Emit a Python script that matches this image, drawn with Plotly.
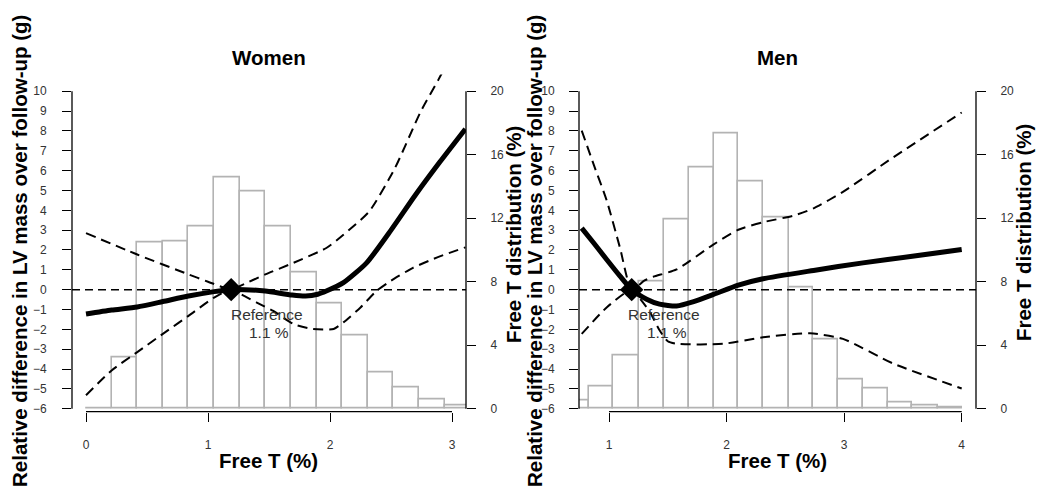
import plotly.graph_objects as go

# ---------------- data ----------------
# Women: histogram of free T (% of participants)
women_edges = [0.0, 0.21, 0.42, 0.63, 0.84, 1.05, 1.26, 1.47, 1.68, 1.89, 2.10, 2.31, 2.52, 2.73, 2.94, 3.15]
women_pct = [0.05, 3.25, 10.5, 10.55, 11.5, 14.56, 13.67, 11.48, 8.6, 6.65, 4.6, 2.31, 1.33, 0.58, 0.19]

# Women: estimated relative difference in LV mass and 95% CI
women_x = [0.0, 0.21, 0.42, 0.63, 0.84, 1.05, 1.19, 1.3, 1.47, 1.69, 1.8, 1.9, 1.97, 2.11, 2.3, 2.5, 2.7, 2.9, 3.11]
women_est = [-1.23, -1.03, -0.87, -0.6, -0.32, -0.1, 0.0, 0.0, -0.07, -0.27, -0.32, -0.23, -0.07, 0.35, 1.35, 3.0, 4.77, 6.43, 8.1]
women_hi_x = [0.0, 0.42, 0.84, 1.0, 1.19, 1.26, 1.47, 1.70, 1.97, 2.11, 2.32, 2.53, 2.74, 2.89, 2.95]
women_hi = [2.85, 1.77, 0.77, 0.4, 0.0, 0.18, 0.77, 1.35, 2.1, 2.77, 3.93, 6.1, 8.93, 10.6, 11.3]
women_lo_x = [0.0, 0.21, 0.42, 0.63, 0.84, 1.05, 1.19, 1.3, 1.4, 1.535, 1.7, 1.86, 2.03, 2.11, 2.25, 2.38, 2.5, 2.68, 2.9, 3.11]
women_lo = [-5.32, -4.07, -3.15, -2.23, -1.32, -0.4, 0.0, -0.33, -0.65, -1.07, -1.73, -1.98, -1.98, -1.65, -0.9, -0.07, 0.45, 1.1, 1.68, 2.13]

# Men: histogram of free T (% of participants)
men_edges = [0.62, 0.832, 1.037, 1.255, 1.47, 1.683, 1.893, 2.10, 2.312, 2.53, 2.737, 2.95, 3.162, 3.37, 3.58, 3.795, 4.0]
men_pct = [0.54, 1.375, 3.35, 8.04, 11.9, 15.2, 17.35, 14.33, 12.04, 7.67, 4.35, 1.85, 1.27, 0.4, 0.23, 0.06]

# Men: estimated relative difference in LV mass and 95% CI
men_x = [0.768, 0.87, 0.98, 1.094, 1.193, 1.32, 1.43, 1.575, 1.72, 1.893, 2.10, 2.31, 2.74, 3.16, 3.58, 4.0]
men_est = [3.1, 2.35, 1.52, 0.68, 0.0, -0.48, -0.73, -0.82, -0.6, -0.23, 0.23, 0.55, 0.97, 1.35, 1.68, 2.02]
men_hi_x = [0.768, 0.87, 0.98, 1.094, 1.193, 1.3, 1.377, 1.575, 1.887, 2.10, 2.31, 2.57, 2.74, 2.99, 3.42, 4.0]
men_hi = [8.02, 6.3, 4.5, 2.1, 0.0, 0.45, 0.65, 1.02, 2.27, 3.02, 3.4, 3.73, 4.1, 4.93, 6.68, 8.93]
men_lo_x = [0.768, 0.98, 1.193, 1.27, 1.35, 1.43, 1.5, 1.575, 1.97, 2.31, 2.71, 2.99, 3.42, 4.0]
men_lo = [-2.23, -0.9, 0.0, -0.5, -1.15, -2.05, -2.6, -2.73, -2.73, -2.4, -2.2, -2.48, -3.73, -4.98]

ref_x = [1.19, 1.193]
ref_label = ["Reference", "1.1 %"]

titles = ["Women", "Men"]
y_title = "Relative difference in LV mass over follow-up (g)"
y2_title = "Free T distribution (%)"
x_title = "Free T (%)"
mass_ticks = list(range(-6, 11))
pct_ticks = [0, 4, 8, 12, 16, 20]
women_xticks = [0, 1, 2, 3]
men_xticks = [1, 2, 3, 4]

# ---------------- layout helpers ----------------
W, H = 1039, 498
FONT = "Liberation Sans, Arial, sans-serif"
GREY = "#b3b3b3"


def px(v):
    return v / W


def py(v):
    return 1 - v / H


mass_range = [-6.15, 10.85]
pct_range = [(mass_range[0] + 6) * 1.25, (mass_range[1] + 6) * 1.25]

fig = go.Figure()

panels = [
    dict(xa="x", ya_pct="y", ya_mass="y2", edges=women_edges, pct=women_pct,
         x=women_x, est=women_est, hx=women_hi_x, hi=women_hi, lx=women_lo_x, lo=women_lo,
         ref=ref_x[0]),
    dict(xa="x2", ya_pct="y3", ya_mass="y4", edges=men_edges, pct=men_pct,
         x=men_x, est=men_est, hx=men_hi_x, hi=men_hi, lx=men_lo_x, lo=men_lo,
         ref=ref_x[1]),
]

for p in panels:
    e = p["edges"]
    centers = [(a + b) / 2 for a, b in zip(e[:-1], e[1:])]
    widths = [b - a for a, b in zip(e[:-1], e[1:])]
    fig.add_trace(go.Bar(x=centers, y=p["pct"], width=widths, xaxis=p["xa"], yaxis=p["ya_pct"],
                         marker=dict(color="white", line=dict(color=GREY, width=1.6)),
                         showlegend=False, hoverinfo="skip"))
    for xs, ys in [(p["hx"], p["hi"]), (p["lx"], p["lo"])]:
        fig.add_trace(go.Scatter(x=xs, y=ys, xaxis=p["xa"], yaxis=p["ya_mass"], mode="lines",
                                 line=dict(color="black", width=2, dash="10px,6px", shape="spline", smoothing=0.6),
                                 showlegend=False, hoverinfo="skip"))
    fig.add_trace(go.Scatter(x=p["x"], y=p["est"], xaxis=p["xa"], yaxis=p["ya_mass"], mode="lines",
                             line=dict(color="black", width=5, shape="spline", smoothing=0.6),
                             showlegend=False, hoverinfo="skip"))
    fig.add_trace(go.Scatter(x=[p["ref"]], y=[0], xaxis=p["xa"], yaxis=p["ya_mass"], mode="markers",
                             marker=dict(symbol="diamond", size=18, color="black"),
                             showlegend=False, hoverinfo="skip"))

tick_common = dict(ticks="outside", ticklen=9, tickwidth=1.3, tickcolor="black",
                   showline=False, showgrid=False, zeroline=False,
                   tickfont=dict(family=FONT, size=12, color="#333333"))

ydom = [py(415), py(75)]

fig.update_layout(
    width=W, height=H, margin=dict(l=0, r=0, t=0, b=0),
    paper_bgcolor="white", plot_bgcolor="white",
    font=dict(family=FONT),
    barmode="overlay", bargap=0,
    xaxis=dict(domain=[px(72), px(466)], range=[-0.11475, 3.11475], tickvals=women_xticks,
               anchor="y", ticklabelstandoff=13, **tick_common),
    yaxis=dict(domain=ydom, range=pct_range, tickvals=pct_ticks, side="right", anchor="x",
               ticklabelstandoff=12, **tick_common),
    yaxis2=dict(domain=ydom, range=mass_range, tickvals=mass_ticks, side="left", anchor="x",
                overlaying="y", ticklabelstandoff=13, **tick_common),
    xaxis2=dict(domain=[px(579), px(976)], range=[0.74483, 4.12163], tickvals=men_xticks,
                anchor="y3", ticklabelstandoff=13, **tick_common),
    yaxis3=dict(domain=ydom, range=pct_range, tickvals=pct_ticks, side="right", anchor="x2",
                ticklabelstandoff=12, **tick_common),
    yaxis4=dict(domain=ydom, range=mass_range, tickvals=mass_ticks, side="left", anchor="x2",
                overlaying="y3", ticklabelstandoff=12, **tick_common),
)

shapes = []
for xa, ya_pct, ya_mass, xt in [("x", "y", "y2", women_xticks), ("x2", "y3", "y4", men_xticks)]:
    ln = dict(color="black", width=1.3)
    shapes.append(dict(type="line", xref=xa + " domain", yref=ya_mass, x0=0, x1=0,
                       y0=mass_ticks[0], y1=mass_ticks[-1], line=ln))
    shapes.append(dict(type="line", xref=xa + " domain", yref=ya_pct, x0=1, x1=1,
                       y0=pct_ticks[0], y1=pct_ticks[-1], line=ln))
    shapes.append(dict(type="line", xref=xa, yref=ya_pct + " domain", x0=xt[0], x1=xt[-1],
                       y0=0, y1=0, line=ln))
    shapes.append(dict(type="line", xref=xa + " domain", yref=ya_mass, x0=0, x1=1, y0=0, y1=0,
                       line=dict(color="black", width=1.5, dash="8px,5px")))
fig.update_layout(shapes=shapes)

ann = []
title_font = dict(family=FONT, size=20.5, color="black", weight="bold")
for cx, t in [(268.5, titles[0]), (777, titles[1])]:
    ann.append(dict(text=t, x=px(cx), y=py(58), xref="paper", yref="paper", showarrow=False,
                    font=title_font, xanchor="center", yanchor="middle"))
    ann.append(dict(text=x_title, x=px(cx), y=py(464), xref="paper", yref="paper", showarrow=False,
                    font=title_font, xanchor="center", yanchor="middle"))
for cx, cy, t in [(20, 253, y_title), (535, 253, y_title), (513, 236, y2_title), (1023, 234, y2_title)]:
    ann.append(dict(text=t, x=px(cx), y=py(cy), xref="paper", yref="paper", showarrow=False,
                    textangle=-90, font=title_font, xanchor="center", yanchor="middle"))
for xa, ya, cx in [("x", "y2", 1.48), ("x2", "y4", 1.47)]:
    ann.append(dict(text=ref_label[0], x=cx, y=-1.24, xref=xa, yref=ya, showarrow=False,
                    font=dict(family=FONT, size=15.5, color="#333333"), xanchor="center", yanchor="middle"))
    ann.append(dict(text=ref_label[1], x=cx + 0.02, y=-2.15, xref=xa, yref=ya, showarrow=False,
                    font=dict(family=FONT, size=15.5, color="#333333"), xanchor="center", yanchor="middle"))
fig.update_layout(annotations=ann)

fig.write_html("out.html", config={"displayModeBar": False},
               post_script="document.body.style.margin='0px';document.body.style.overflow='hidden';")
